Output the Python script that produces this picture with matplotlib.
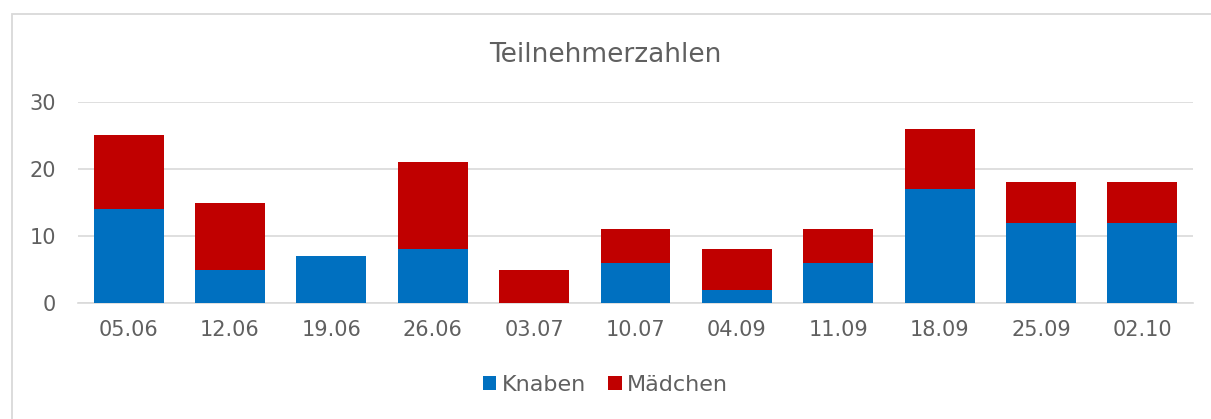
import matplotlib
matplotlib.use("Agg")
import matplotlib.pyplot as plt
from matplotlib.patches import Rectangle
import numpy as np

categories = ["05.06", "12.06", "19.06", "26.06", "03.07", "10.07", "04.09", "11.09", "18.09", "25.09", "02.10"]
knaben = [14, 5, 7, 8, 0, 6, 2, 6, 17, 12, 12]
maedchen = [11, 10, 0, 13, 5, 5, 6, 5, 9, 6, 6]

plt.rcParams['font.family'] = ['DejaVu Sans']
txt = '#606060'

W, H = 1211, 419
fig = plt.figure(figsize=(W / 100, H / 100), dpi=100)
border = Rectangle((12 / W, -0.05), 1.2, 1 - 14 / H + 0.05, transform=fig.transFigure,
                   fill=False, edgecolor='#D9D9D9', linewidth=1.3)
fig.patches.append(border)

ax = fig.add_axes([78 / W, 1 - 303 / H, (1193 - 78) / W, (303 - 102) / H])
x = np.arange(len(categories))
ax.bar(x, knaben, width=0.69, color='#0070C0', label='Knaben', zorder=3)
ax.bar(x, maedchen, width=0.69, bottom=knaben, color='#C00000', label='Mädchen', zorder=3)

ax.set_ylim(0, 30)
ax.set_xlim(-0.5, len(categories) - 0.5)
ax.set_yticks([0, 10, 20, 30])
ax.set_xticks(x)
ax.set_xticklabels(categories)
ax.tick_params(axis='both', length=0, labelsize=15, colors=txt)
ax.tick_params(axis='x', pad=12)
ax.tick_params(axis='y', pad=16)
ax.yaxis.grid(True, color='#D9D9D9', linewidth=1.2, zorder=0)
for s in ['top', 'right', 'left']:
    ax.spines[s].set_visible(False)
ax.spines['bottom'].set_color('#D9D9D9')
ax.spines['bottom'].set_linewidth(1.2)

fig.text(0.5, 1 - 55 / H, 'Teilnehmerzahlen', ha='center', va='center', fontsize=19, color=txt)
fig.legend(loc='center', bbox_to_anchor=(0.5, 1 - 385 / H), ncol=2, frameon=False, fontsize=16,
           handlelength=0.6, handleheight=0.6, handletextpad=0.25, columnspacing=1.0, labelcolor=txt)

fig.savefig('out.png', dpi=100)
